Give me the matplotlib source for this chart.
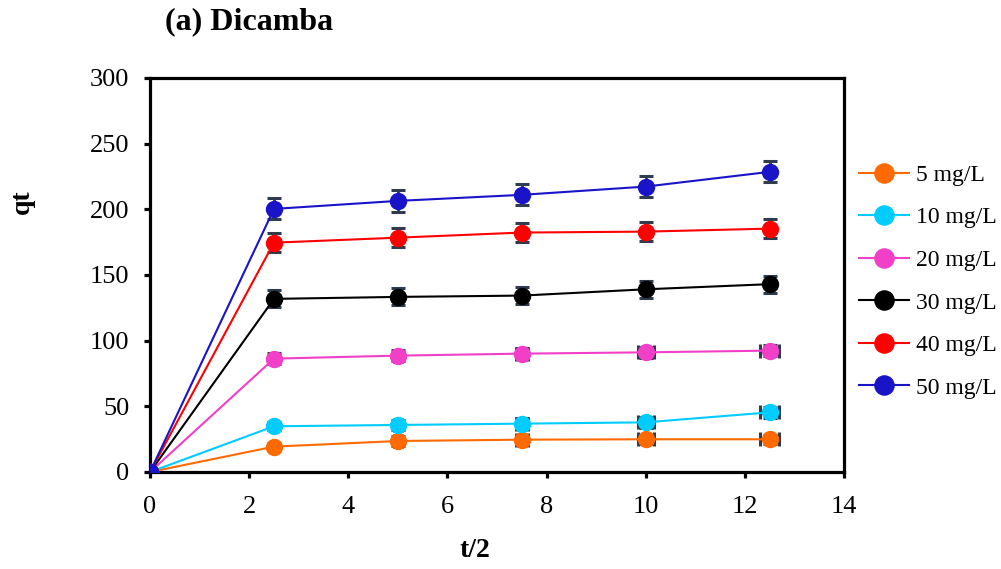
import numpy as np
import matplotlib.pyplot as plt

plt.rcParams['font.family'] = ['Liberation Serif', 'DejaVu Serif']

t = [0, 2.5, 5, 7.5, 10, 12.5]
labels = ['5 mg/L', '10 mg/L', '20 mg/L', '30 mg/L', '40 mg/L', '50 mg/L']
colors = ['#ff6a00', '#00ccff', '#f23fc8', '#000000', '#ff0000', '#1a14c8']

q5 = [0, 19.3, 23.6, 24.6, 24.9, 24.9]
q10 = [0, 34.8, 35.8, 36.8, 37.8, 45.4]
q20 = [0, 86.3, 88.6, 90.1, 91.1, 92.4]
q30 = [0, 131.8, 133.3, 134.3, 139.1, 143.0]
q40 = [0, 174.6, 178.4, 182.3, 183.0, 185.3]
q50 = [0, 200.3, 206.4, 211.0, 217.3, 228.5]

e5 = [0, 2.5, 3.5, 3.5, 3.5, 3.5]
e10 = [0, 3.0, 4.0, 4.0, 4.0, 4.0]
e20 = [0, 4.0, 4.0, 4.0, 4.0, 4.0]
e30 = [0, 6.5, 6.5, 6.5, 6.5, 6.5]
e40 = [0, 7.0, 7.0, 7.0, 7.0, 7.0]
e50 = [0, 8.0, 8.5, 8.0, 8.0, 8.0]

xe_low = [0, 0, 0.08, 0.12, 0.16, 0.19]
xe_none = [0, 0, 0, 0, 0, 0]

series = [
    (q5, e5, xe_low),
    (q10, e10, xe_low),
    (q20, e20, xe_low),
    (q30, e30, xe_none),
    (q40, e40, xe_none),
    (q50, e50, xe_none),
]

fig = plt.figure(figsize=(10.01, 5.69), dpi=100)
ax = fig.add_axes([0.1499, 0.1705, 0.6933, 0.6925])

for (q, ye, xe), c, lab in zip(series, colors, labels):
    ax.errorbar(t, q, yerr=ye, xerr=xe, fmt='none', ecolor='#2f3b4f',
                elinewidth=2, capsize=5, capthick=2.2, zorder=2)
    ax.plot(t, q, '-o', color=c, lw=1.5, ms=11.5, mec=c, label=lab, zorder=3)

ax.set_xlim(0, 14)
ax.set_ylim(0, 300)
ax.set_xticks(np.arange(0, 15, 2))
ax.set_yticks(np.arange(0, 301, 50))
for s in ax.spines.values():
    s.set_linewidth(2.3)
ax.tick_params(direction='out', length=4, width=2.3, labelsize=19)
ax.tick_params(axis='x', pad=13)
ax.tick_params(axis='y', pad=11)

fig.text(0.165, 0.961, '(a) Dicamba', fontsize=23, fontweight='bold', va='center')
fig.text(0.474, 0.033, 't/2', fontsize=20, fontweight='bold', ha='center', va='center')
fig.text(0.022, 0.645, 'qt', fontsize=20, fontweight='bold', rotation=90,
         ha='center', va='center')

ax.legend(loc='center left', bbox_to_anchor=(1.022, 0.4835), frameon=False,
          fontsize=17, handlelength=2.1, labelspacing=0.89, handletextpad=0.3,
          markerscale=1.2, borderaxespad=0, borderpad=0)

fig.savefig('out.png', dpi=100)
